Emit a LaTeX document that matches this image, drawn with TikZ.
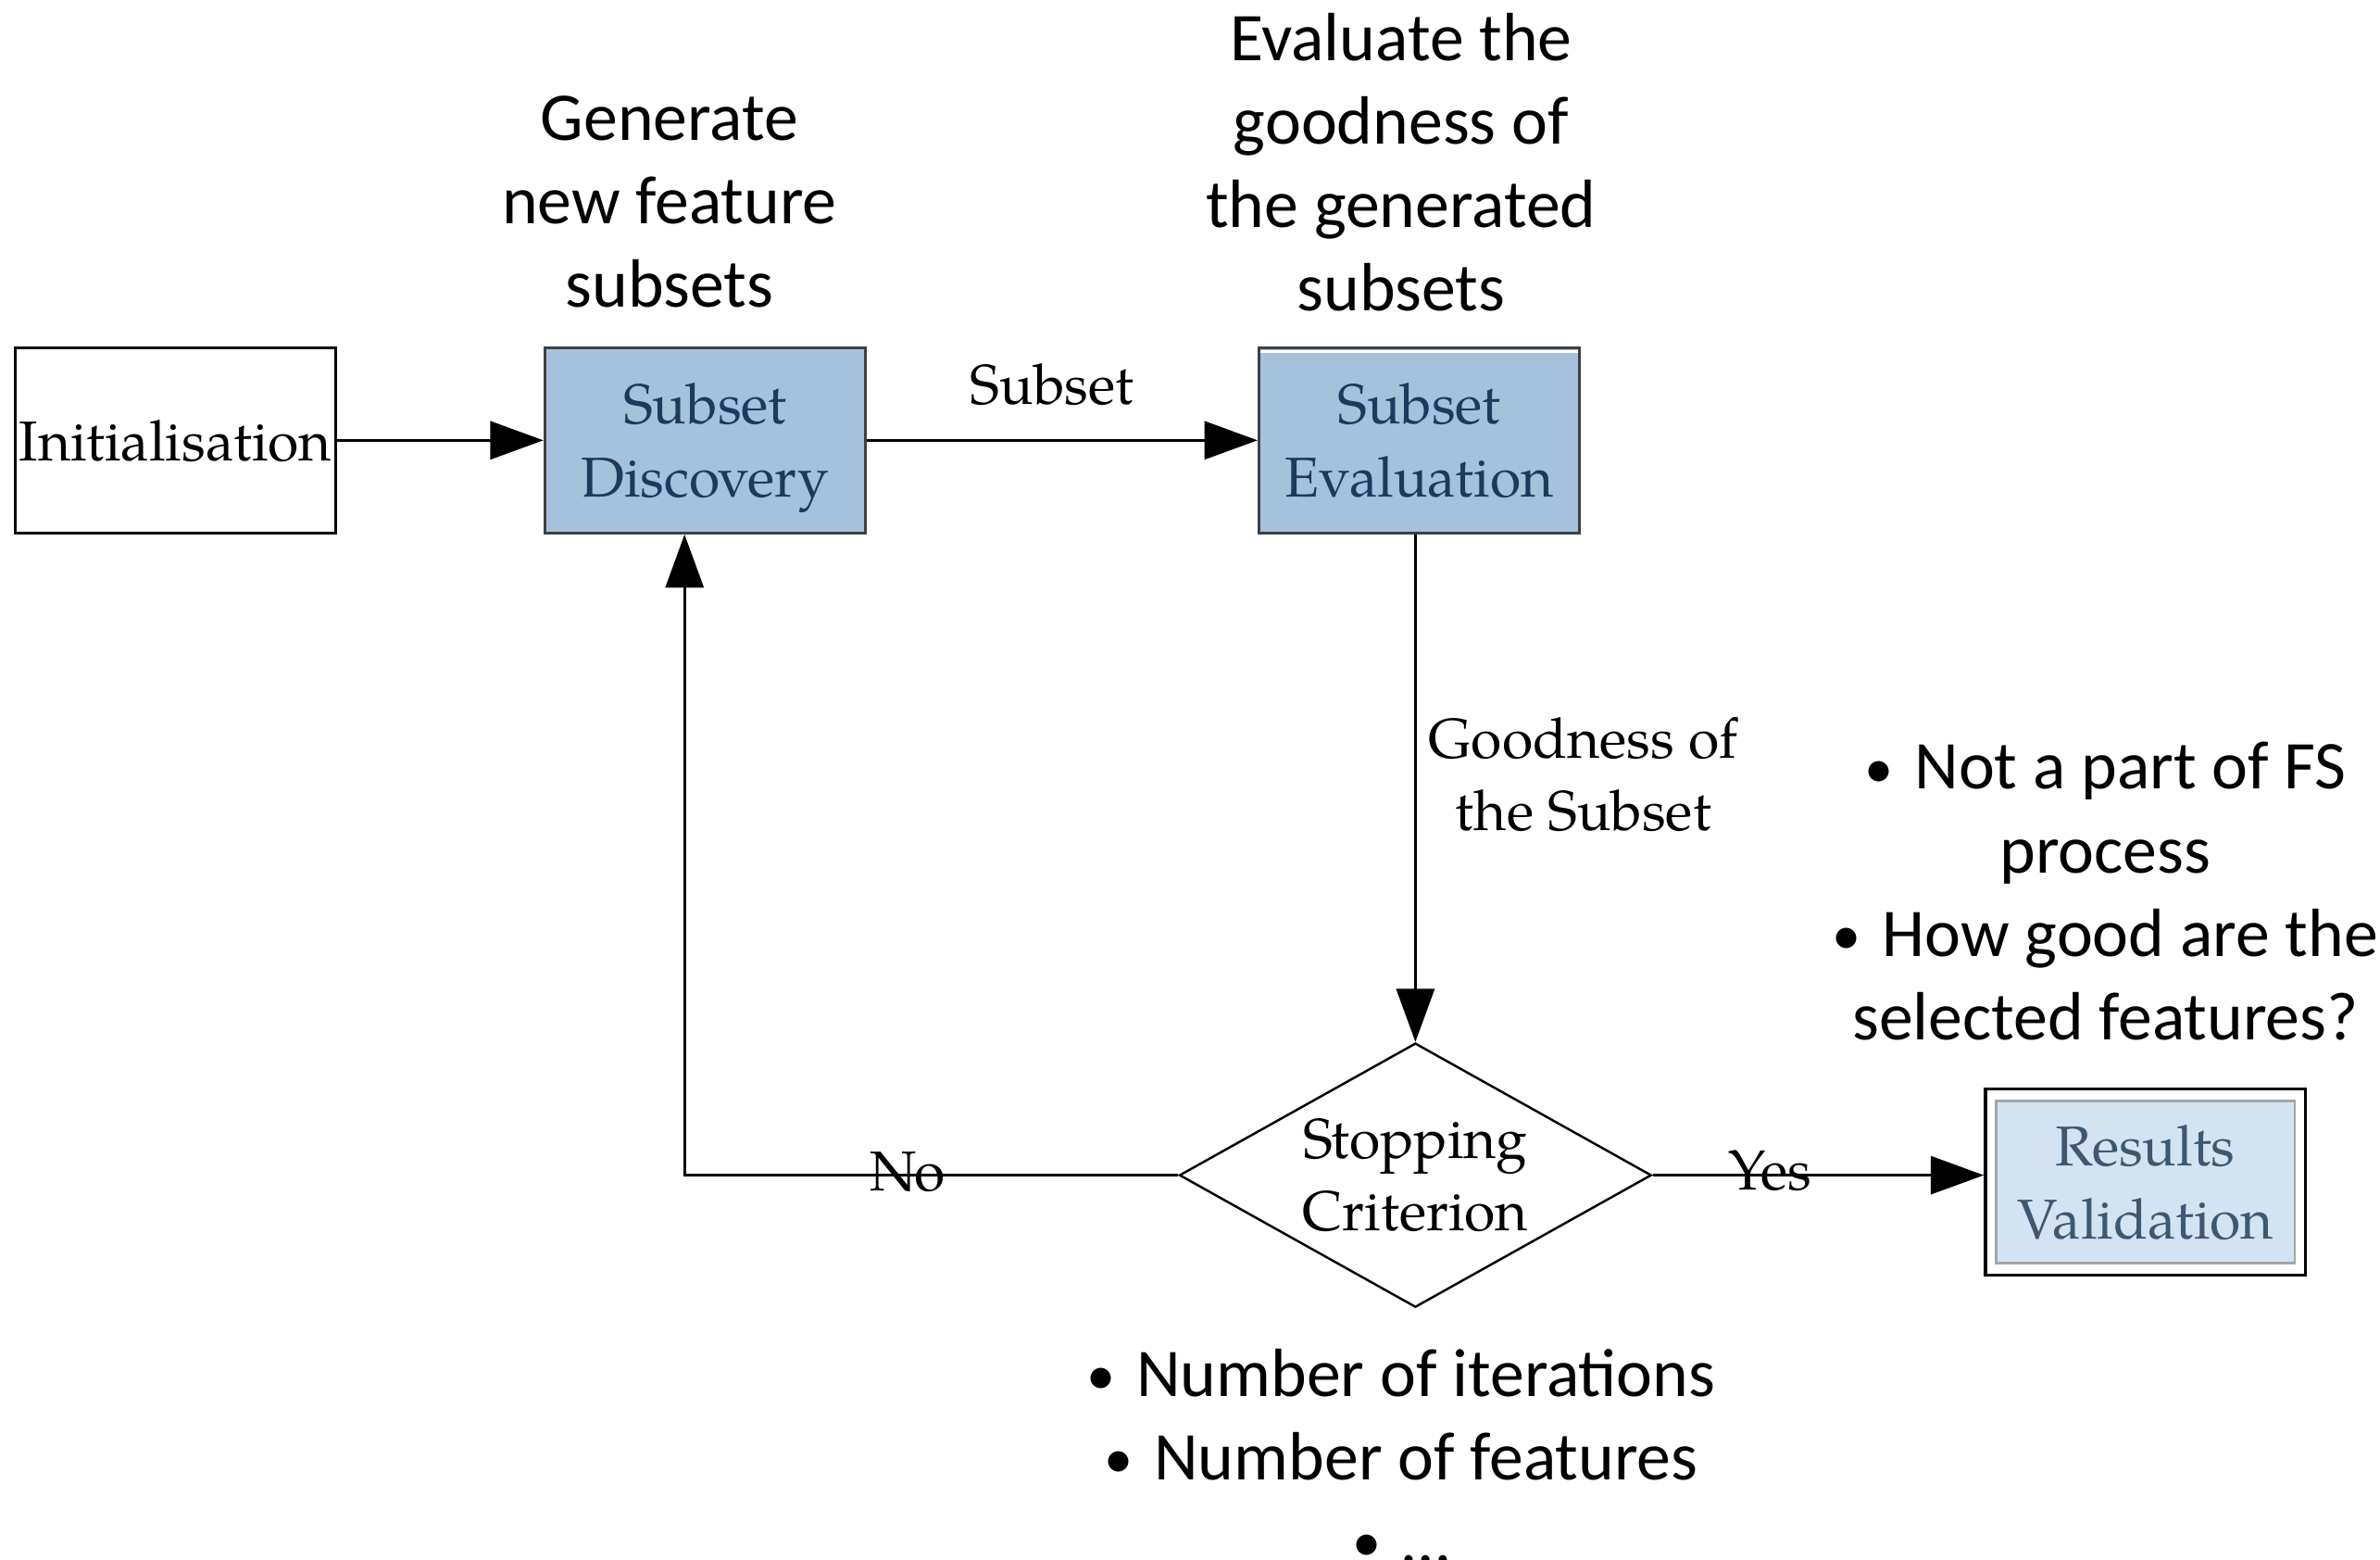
\documentclass[tikz,border=0pt]{standalone}
\usepackage{fontspec}
\setmainfont{texgyrepagella}[Extension=.otf,UprightFont=*-regular,BoldFont=*-bold]
\newfontfamily\carlitofont{Carlito}
\usetikzlibrary{arrows.meta,shapes.geometric}
\definecolor{boxblue}{HTML}{A6C1DC}
\definecolor{boxtext}{HTML}{1C3A5C}
\definecolor{paleblue}{HTML}{D3E3F2}
\definecolor{paletext}{HTML}{3F5870}
\newcommand\smallbul{\raisebox{1pt}{\fontsize{38}{38}\selectfont\textbullet}\hspace{14pt}}
\tikzset{
  serif/.style={font=\fontsize{37}{48}\selectfont},
  sanslbl/.style={font=\carlitofont\fontsize{45}{55}\selectfont, align=center},
  plainbox/.style={draw=black, line width=2pt, minimum width=211pt, minimum height=122pt, inner sep=0pt, serif, align=center, text depth=0pt},
  bluebox/.style={plainbox, fill=boxblue, draw=black!75, text=boxtext},
  conn/.style={line width=2pt, -{Triangle[length=35pt,width=25pt]}},
  lbl/.style={serif, align=center, inner sep=0pt},
}
\begin{document}
\begin{tikzpicture}[x=1pt,y=-1pt]
\useasboundingbox (0,0) rectangle (1568,1027);
% nodes
\node[plainbox] (init) at (115.5,290) {Initialisation};
\node[bluebox] (sd) at (464.5,290) {Subset\\Discovery};
\node[bluebox] (se) at (935,290) {Subset\\Evaluation};
\draw[white, line width=2pt] ([xshift=2pt,yshift=-3.5pt]se.north west) -- ([xshift=-2pt,yshift=-3.5pt]se.north east);
\node[diamond, draw=black, line width=1.5pt, minimum width=311pt, minimum height=174pt, inner sep=0pt, aspect=1.79, serif, align=center] (dia) at (932.5,774) {Stopping\\Criterion};
\node[draw=black, line width=2pt, minimum width=211pt, minimum height=123pt, inner sep=0pt] (rv) at (1413.5,778.5) {};
\node[fill=paleblue, draw=black!35, line width=1.5pt, minimum width=197pt, minimum height=107pt, inner sep=0pt, serif, text=paletext, align=center, text depth=0pt] (rvin) at (rv.center) {Results\\Validation};
% connectors
\draw[conn] (init.east) -- (sd.west);
\draw[conn] (sd.east) -- (se.west);
\node[lbl] (sublbl) at (693,253) {Subset};
\draw[conn] (dia.north |- se.south) -- (dia.north);
\coordinate (nocorner) at (451,774);
\draw[conn] (dia.west) -- (nocorner) -- (nocorner |- sd.south);
\node[lbl] (nolbl) at (598,772) {No};
\draw[conn] (dia.east) -- (rv.west |- dia.east);
\node[lbl] (yeslbl) at (1166,771) {Yes};
\node[lbl] (goodlbl) at (1043,510) {Goodness of\\the Subset};
% annotations
\node[sanslbl] (gen) at (441,133) {Generate\\new feature\\subsets};
\node[sanslbl] (evalt) at (923,107) {Evaluate the\\goodness of\\the generated\\subsets};
\node[sanslbl] (notfs) at (1387,587) {\smallbul Not a part of FS\\process\\\smallbul How good are the\\selected features?};
\node[sanslbl] (stopc) at (923,959) {\smallbul Number of iterations\\\smallbul Number of features\\\smallbul …};
\end{tikzpicture}
\end{document}
